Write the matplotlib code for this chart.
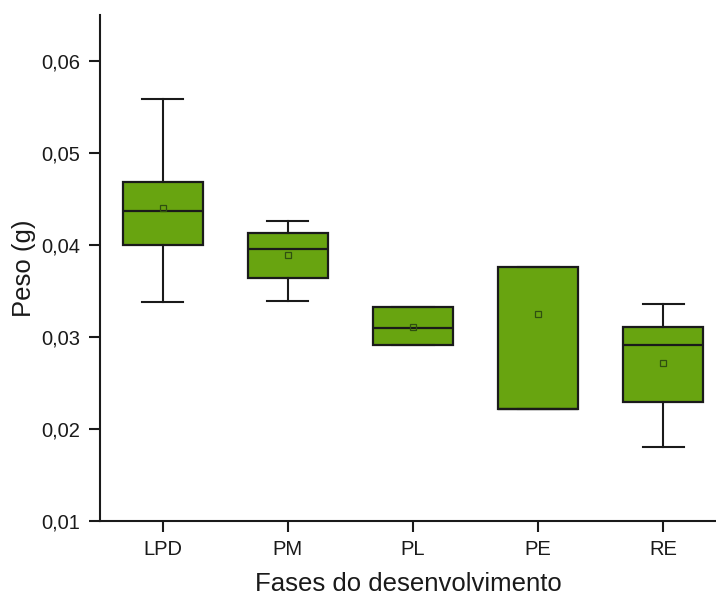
import matplotlib.pyplot as plt
from matplotlib.ticker import FuncFormatter

plt.rcParams['font.family'] = ['Liberation Sans', 'DejaVu Sans']

# fases e estatisticas
fases = ["LPD", "PM", "PL", "PE", "RE"]
wlo = [0.0338, 0.0339, 0.0291, 0.0222, 0.0180]
q1 = [0.0400, 0.0364, 0.0291, 0.0222, 0.0229]
med = [0.0437, 0.0396, 0.0310, 0.0222, 0.0291]
q3 = [0.04685, 0.0413, 0.0333, 0.0376, 0.0311]
whi = [0.0559, 0.0426, 0.0333, 0.0376, 0.0336]
media = [0.0440, 0.0389, 0.0311, 0.0325, 0.0272]

verde = "#68a410"

stats = []
for i in range(len(fases)):
    stats.append({"label": fases[i], "whislo": wlo[i], "q1": q1[i], "med": med[i],
                  "q3": q3[i], "whishi": whi[i], "mean": media[i], "fliers": []})

fig = plt.figure(figsize=(7.16, 5.95), dpi=100)
ax = fig.add_axes([0.1397, 0.1244, 0.862, 0.8504])

ax.bxp(stats, positions=range(1, 6), widths=0.64, capwidths=0.33,
       patch_artist=True, showmeans=True,
       boxprops=dict(facecolor=verde, edgecolor="#1a1a1a", linewidth=1.6),
       medianprops=dict(color="#1a1a1a", linewidth=1.6),
       whiskerprops=dict(color="#1a1a1a", linewidth=1.5),
       capprops=dict(color="#1a1a1a", linewidth=1.5),
       meanprops=dict(marker="s", markersize=4.5, markerfacecolor="none",
                      markeredgecolor="#2f4f10", markeredgewidth=0.9))

ax.set_xlim(0.5, 5.43)
ax.set_ylim(0.01, 0.065)
ax.set_yticks([0.01, 0.02, 0.03, 0.04, 0.05, 0.06])
ax.yaxis.set_major_formatter(FuncFormatter(lambda v, p: ("%.2f" % v).replace(".", ",")))

for s in ["top", "right"]:
    ax.spines[s].set_visible(False)
for s in ["left", "bottom"]:
    ax.spines[s].set_linewidth(1.5)
    ax.spines[s].set_color("#1a1a1a")

ax.tick_params(axis="both", direction="out", length=8, width=1.5, color="#1a1a1a",
               labelsize=14.5, labelcolor="#1a1a1a", pad=6)

ax.set_xlabel("Fases do desenvolvimento", fontsize=18.5, color="#1a1a1a", labelpad=9)
ax.set_ylabel("Peso (g)", fontsize=18.5, color="#1a1a1a", labelpad=4)

plt.savefig("out.png", dpi=100)
